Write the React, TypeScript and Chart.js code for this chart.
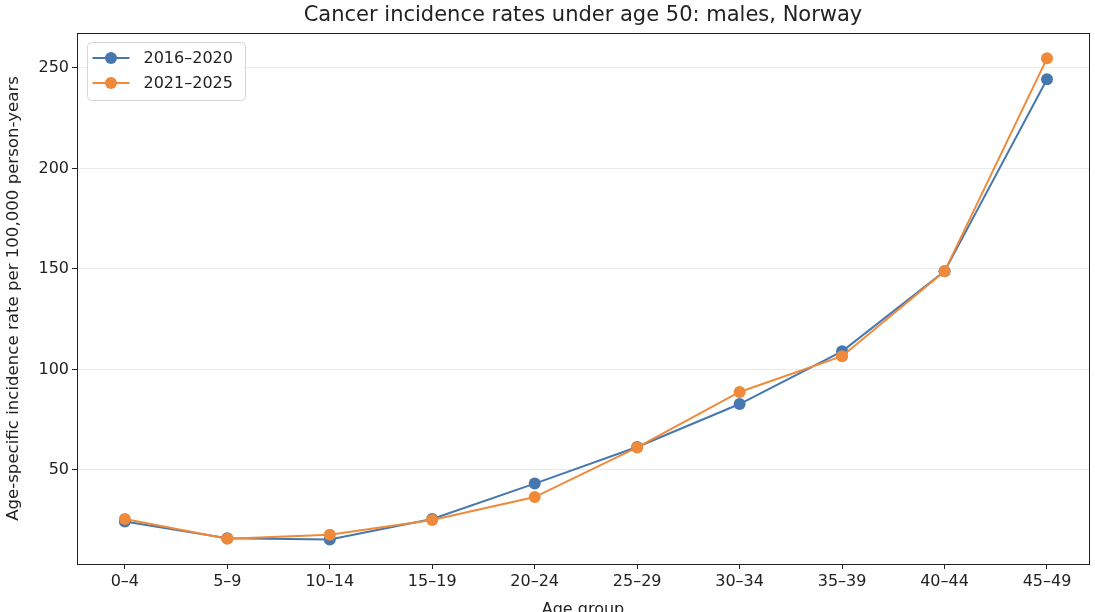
import React, { useEffect, useRef } from "react";
import { Chart, registerables } from "chart.js";

Chart.register(...registerables);

const categories = ["0–4", "5–9", "10–14", "15–19", "20–24", "25–29", "30–34", "35–39", "40–44", "45–49"];
const series2016 = [24.4, 16.0, 15.4, 25.6, 43.2, 61.4, 82.8, 109.0, 148.8, 244.4];
const series2021 = [25.6, 15.8, 17.7, 25.1, 36.5, 61.2, 88.8, 106.6, 148.8, 254.8];
const yTicks = [50, 100, 150, 200, 250];
const seriesLabels = ["2016–2020", "2021–2025"];
const seriesColors = ["#4677ae", "#ef8a3a"];
const chartTitle = "Cancer incidence rates under age 50: males, Norway";

const FONT = "'DejaVu Sans', sans-serif";

const framePlugin = {
  id: "frame",
  afterDraw(chart: any) {
    const { ctx, chartArea } = chart;
    const { left, top, right, bottom } = chartArea;
    ctx.save();
    ctx.strokeStyle = "#222";
    ctx.lineWidth = 1;
    ctx.strokeRect(Math.round(left) + 0.5, Math.round(top) + 0.5, Math.round(right - left), Math.round(bottom - top));

    // title centered over axes (matplotlib style)
    ctx.fillStyle = "#222";
    ctx.font = `21px ${FONT}`;
    ctx.textAlign = "center";
    ctx.textBaseline = "middle";
    ctx.fillText(chartTitle, (left + right) / 2, 16);

    // legend box (matplotlib style, upper left)
    const bx = left + 10.5;
    const by = top + 9.5;
    const bw = 158;
    const bh = 58;
    const r = 4;
    ctx.beginPath();
    ctx.moveTo(bx + r, by);
    ctx.lineTo(bx + bw - r, by);
    ctx.quadraticCurveTo(bx + bw, by, bx + bw, by + r);
    ctx.lineTo(bx + bw, by + bh - r);
    ctx.quadraticCurveTo(bx + bw, by + bh, bx + bw - r, by + bh);
    ctx.lineTo(bx + r, by + bh);
    ctx.quadraticCurveTo(bx, by + bh, bx, by + bh - r);
    ctx.lineTo(bx, by + r);
    ctx.quadraticCurveTo(bx, by, bx + r, by);
    ctx.closePath();
    ctx.fillStyle = "rgba(255,255,255,0.85)";
    ctx.fill();
    ctx.strokeStyle = "#d6d6d6";
    ctx.stroke();

    seriesLabels.forEach((label, i) => {
      const y = by + 15.5 + i * 25;
      const x0 = bx + 5;
      const x1 = bx + 42;
      ctx.strokeStyle = seriesColors[i];
      ctx.lineWidth = 2;
      ctx.beginPath();
      ctx.moveTo(x0, y);
      ctx.lineTo(x1, y);
      ctx.stroke();
      ctx.fillStyle = seriesColors[i];
      ctx.beginPath();
      ctx.arc((x0 + x1) / 2, y, 6, 0, Math.PI * 2);
      ctx.fill();
      ctx.fillStyle = "#222";
      ctx.font = `16px ${FONT}`;
      ctx.textBaseline = "middle";
      ctx.textAlign = "left";
      ctx.fillText(label, bx + 56, y + 1);
    });
    ctx.restore();
  },
};

export default function App() {
  const ref = useRef<HTMLCanvasElement | null>(null);

  useEffect(() => {
    document.body.style.margin = "0";
    if (!ref.current) return;
    const mk = (vals: number[]) => vals.map((v, i) => ({ x: i, y: v }));
    const chart = new Chart(ref.current, {
      type: "line",
      data: {
        datasets: [
          {
            label: seriesLabels[0],
            data: mk(series2016),
            borderColor: seriesColors[0],
            backgroundColor: seriesColors[0],
            pointBackgroundColor: seriesColors[0],
            pointBorderColor: seriesColors[0],
            borderWidth: 2,
            pointRadius: 6,
            pointBorderWidth: 0,
            tension: 0,
            order: 2,
          },
          {
            label: seriesLabels[1],
            data: mk(series2021),
            borderColor: seriesColors[1],
            backgroundColor: seriesColors[1],
            pointBackgroundColor: seriesColors[1],
            pointBorderColor: seriesColors[1],
            borderWidth: 2,
            pointRadius: 6,
            pointBorderWidth: 0,
            tension: 0,
            order: 1,
          },
        ],
      },
      options: {
        responsive: false,
        animation: false,
        devicePixelRatio: 1,
        layout: { padding: { left: 0, right: 4, top: 33, bottom: 0 } },
        plugins: {
          legend: { display: false },
          tooltip: { enabled: false },
          title: { display: false },
        },
        scales: {
          x: {
            type: "linear",
            min: -0.467,
            max: 9.41,
            afterBuildTicks: (scale: any) => {
              scale.ticks = categories.map((_, i) => ({ value: i }));
            },
            afterFit: (scale: any) => {
              scale.height = 48;
            },
            ticks: {
              autoSkip: false,
              maxRotation: 0,
              padding: 3,
              color: "#222",
              font: { family: FONT, size: 16 },
              callback: (v: any) => categories[v as number] ?? "",
            },
            grid: {
              display: true,
              drawOnChartArea: false,
              tickLength: 5,
              tickColor: "#222",
            },
            border: { display: false },
            title: {
              display: true,
              text: "Age group",
              color: "#222",
              font: { family: FONT, size: 16 },
              padding: { top: 0, bottom: -7 },
            },
          },
          y: {
            type: "linear",
            min: 3.2,
            max: 267.4,
            afterBuildTicks: (scale: any) => {
              scale.ticks = yTicks.map((v) => ({ value: v }));
            },
            afterFit: (scale: any) => {
              scale.width = 77;
            },
            ticks: {
              padding: 3,
              color: "#222",
              font: { family: FONT, size: 16 },
            },
            grid: {
              color: "#ebebeb",
              lineWidth: 1,
              tickLength: 5,
              tickColor: "#222",
            },
            border: { display: false },
            title: {
              display: true,
              text: "Age-specific incidence rate per 100,000 person-years",
              color: "#222",
              font: { family: FONT, size: 16.6 },
              padding: { top: 4, bottom: 0 },
            },
          },
        },
      },
      plugins: [framePlugin],
    });
    return () => chart.destroy();
  }, []);

  return (
    <div style={{ width: 1095, height: 612, overflow: "hidden" }}>
      <canvas ref={ref} width={1095} height={612} style={{ display: "block" }} />
    </div>
  );
}
